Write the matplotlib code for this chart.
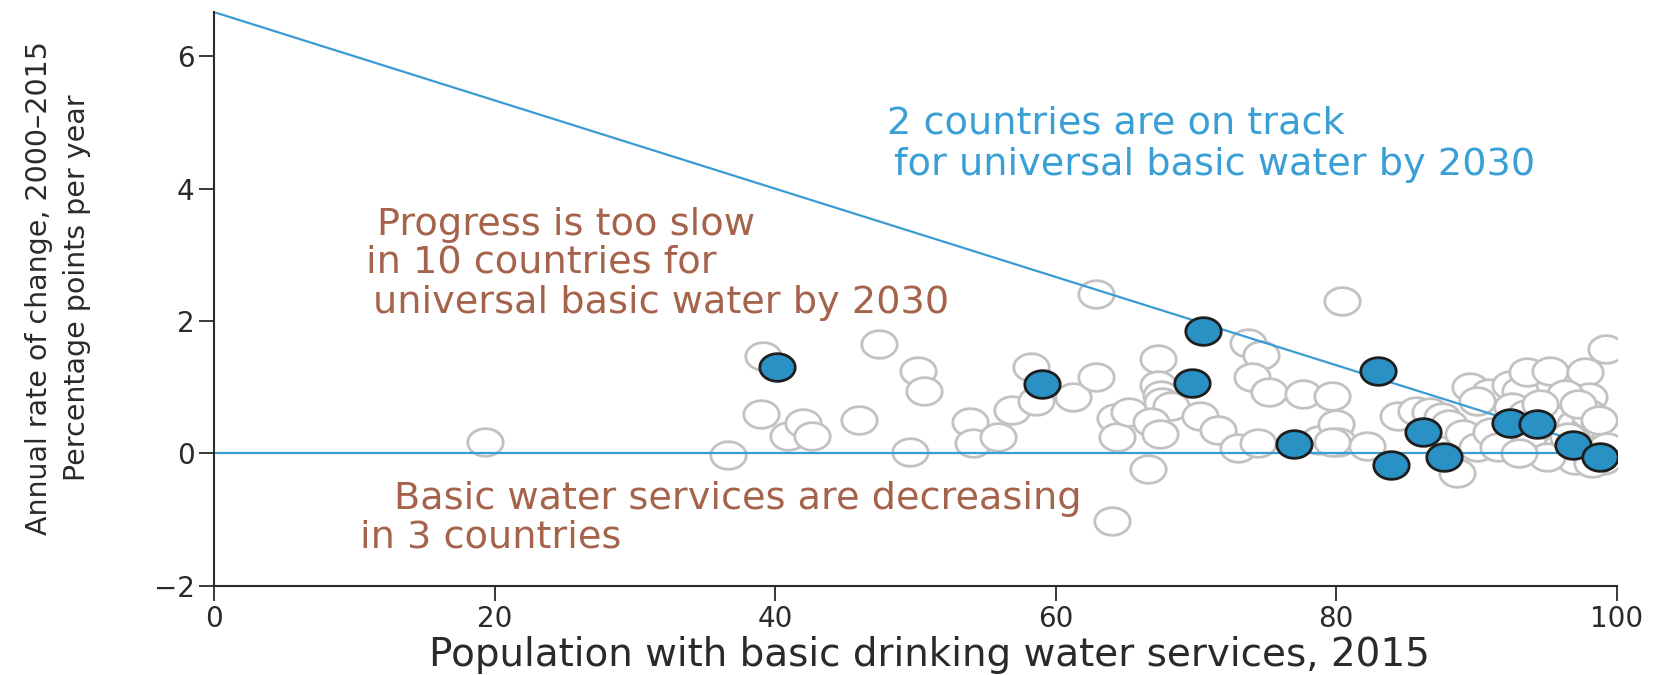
import numpy as np
import matplotlib
matplotlib.use("Agg")
import matplotlib.pyplot as plt
from matplotlib.path import Path

# ---------------- data ----------------
# highlighted countries (filled blue)
hl_x = [40.1, 59.0, 69.7, 70.5, 83.0, 77.0, 83.9, 86.2, 87.7, 92.4, 94.3, 96.9, 98.8]
hl_y = [1.30, 1.05, 1.07, 1.85, 1.25, 0.14, -0.18, 0.32, -0.05, 0.46, 0.45, 0.13, -0.05]

# other countries (grey hollow)
oth_x = [19.3, 36.6, 39.0, 39.1, 40.9, 42.0, 42.6, 46.0, 47.4, 49.6, 50.2, 50.6,
         53.9, 54.1, 55.9, 56.9, 58.2, 58.6, 61.2, 62.9, 62.9, 64.0, 64.2, 64.4,
         65.2, 66.6, 67.3, 67.3, 67.5, 67.6, 68.2, 66.8, 67.4, 70.3, 71.6, 73.0,
         73.7, 74.6, 74.0, 75.2, 77.6, 79.7, 78.8, 80.0, 80.1, 80.4, 82.2, 84.4,
         85.7, 86.7, 87.5, 88.6, 89.5, 90.9, 92.4, 93.1, 93.6, 95.2, 97.7, 99.2,
         98.0, 88.0, 89.0, 90.0, 91.0, 91.5, 92.5, 93.5, 94.0, 95.0, 95.5, 96.0,
         96.5, 97.0, 97.5, 98.0, 98.5, 99.0, 99.2, 99.5, 97.0, 95.0, 93.0, 96.3,
         97.2, 98.7, 99.3, 99.0, 98.2, 96.5, 74.4, 79.7, 90.0, 94.5]
oth_y = [0.18, -0.02, 0.59, 1.47, 0.26, 0.46, 0.26, 0.51, 1.66, 0.03, 1.24, 0.94,
         0.48, 0.16, 0.25, 0.65, 1.31, 0.80, 0.85, 1.16, 2.41, -1.02, 0.53, 0.25,
         0.62, -0.24, 1.42, 1.04, 0.88, 0.78, 0.72, 0.48, 0.30, 0.56, 0.36, 0.09,
         1.67, 1.49, 1.15, 0.93, 0.90, 0.87, 0.20, 0.45, 0.17, 2.30, 0.12, 0.57,
         0.64, 0.62, 0.55, -0.29, 1.01, 0.92, 1.04, 0.94, 1.23, 1.24, 1.23, 1.58,
         0.86, 0.45, 0.30, 0.10, 0.32, 0.10, 0.70, 0.60, 0.20, 0.70, 0.40, 0.10,
         0.60, 0.45, 0.30, 0.60, 0.15, 0.40, 0.00, 0.25, -0.10, -0.05, 0.00, 0.90,
         0.75, 0.50, 0.10, -0.10, -0.15, 0.25, 0.16, 0.17, 0.80, 0.75]

target_line_x = [0, 100]
target_line_y = [100 / 15, 0]
zero_line_x = [0, 100]
zero_line_y = [0, 0]

x_ticks = [0, 20, 40, 60, 80, 100]
y_ticks = [-2, 0, 2, 4, 6]

# ---------------- style ----------------
BROWN = "#a5634b"
BLUE_TXT = "#3a9fd5"
LINE_BLUE = "#3b9bd3"
FILL_BLUE = "#2a91c4"
GREY = "#c2c2c2"
INK = "#2a2a2a"

plt.rcParams["font.family"] = ["DejaVu Sans"]

fig = plt.figure(figsize=(16.6, 6.75), dpi=100)
ax = fig.add_axes([0.129, 0.132, 0.845, 0.850])

# elliptical marker (reference is horizontally stretched)
t = np.linspace(0, 2 * np.pi, 60)
ell = Path(np.column_stack([np.cos(t), 0.78 * np.sin(t)]), closed=True)

ax.scatter(oth_x, oth_y, s=650, marker=ell, facecolors="white",
           edgecolors=GREY, linewidths=2.0, zorder=1)
ax.plot(target_line_x, target_line_y, color=LINE_BLUE, lw=1.6, zorder=2)
ax.plot(zero_line_x, zero_line_y, color=LINE_BLUE, lw=1.6, zorder=2)
ax.scatter(hl_x, hl_y, s=650, marker=ell, facecolors=FILL_BLUE,
           edgecolors="#1e1e1e", linewidths=2.0, zorder=3)

ax.set_xlim(0, 100)
ax.set_ylim(-2, 100 / 15)
ax.set_xticks(x_ticks)
ax.set_yticks(y_ticks)
ax.set_yticklabels(["\u22122" if v < 0 else str(v) for v in y_ticks])
for s in ["top", "right"]:
    ax.spines[s].set_visible(False)
for s in ["left", "bottom"]:
    ax.spines[s].set_linewidth(1.5)
    ax.spines[s].set_color(INK)
ax.tick_params(direction="out", length=11, width=1.3, color=INK,
               labelsize=20, labelcolor=INK, pad=3)

ax.set_xlabel("Population with basic drinking water services, 2015",
              fontsize=28, color=INK)
ax.xaxis.set_label_coords(0.51, -0.088)
ax.set_ylabel("Annual rate of change, 2000\u20132015\nPercentage points per year",
              color=INK, fontsize=20.5, linespacing=1.45)
ax.yaxis.set_label_coords(-0.088, 0.52)

fs = 27.5
ax.text(48.0, 4.98, "2 countries are on track", color=BLUE_TXT, fontsize=fs,
        ha="left", va="center")
ax.text(48.5, 4.36, "for universal basic water by 2030", color=BLUE_TXT,
        fontsize=fs, ha="left", va="center")
ax.text(11.6, 3.45, "Progress is too slow", color=BROWN, fontsize=fs,
        ha="left", va="center")
ax.text(10.8, 2.88, "in 10 countries for", color=BROWN, fontsize=fs,
        ha="left", va="center")
ax.text(11.3, 2.28, "universal basic water by 2030", color=BROWN, fontsize=fs,
        ha="left", va="center")
ax.text(12.8, -0.69, "Basic water services are decreasing", color=BROWN,
        fontsize=fs, ha="left", va="center")
ax.text(10.4, -1.27, "in 3 countries", color=BROWN, fontsize=fs,
        ha="left", va="center")

fig.savefig("out.png", dpi=100)
